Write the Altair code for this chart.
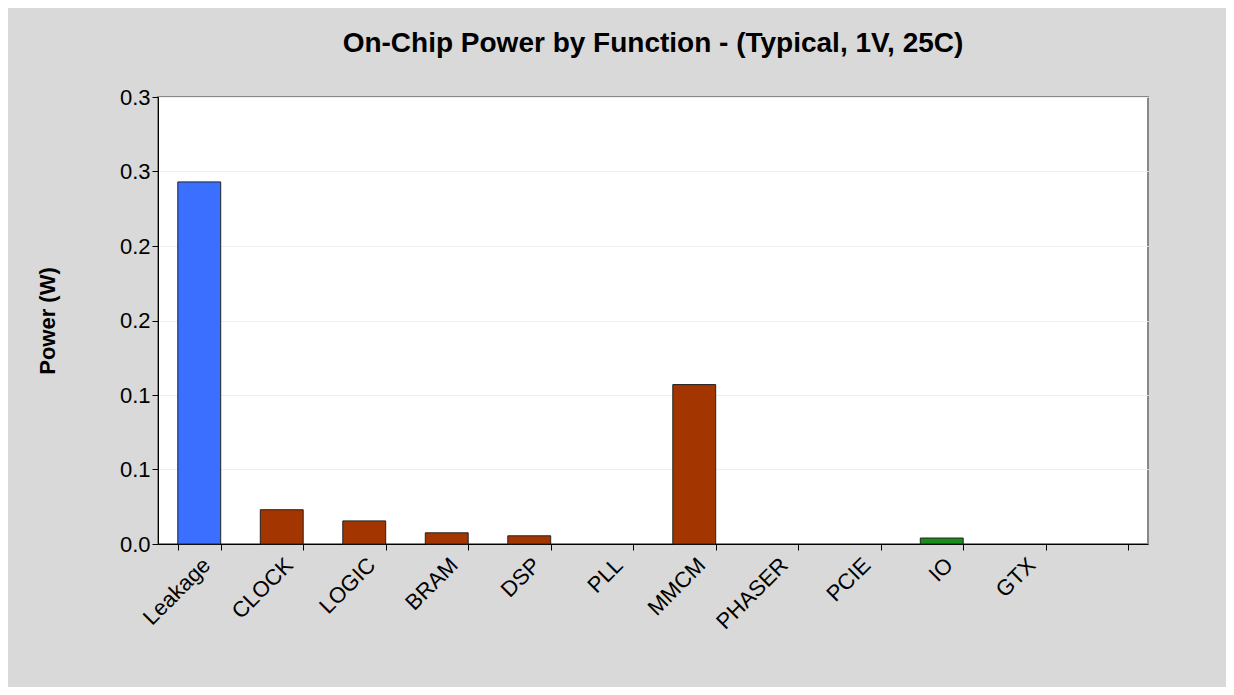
import pandas as pd
import altair as alt

# Data
functions = ["Leakage", "CLOCK", "LOGIC", "BRAM", "DSP", "PLL", "MMCM",
             "PHASER", "PCIE", "IO", "GTX", " "]
power_w = [0.243, 0.023, 0.0155, 0.0075, 0.0055, 0.0, 0.107,
           0.0, 0.0, 0.004, 0.0, 0.0]
groups = ["static", "dyn", "dyn", "dyn", "dyn", "dyn", "dyn",
          "dyn", "dyn", "io", "dyn", "dyn"]

df = pd.DataFrame({"Function": functions, "Power": power_w, "Group": groups})

bars = alt.Chart(df).mark_bar(stroke="#222222", strokeWidth=1).encode(
    x=alt.X("Function:N", sort=functions, title=None)
        .scale(paddingInner=0.48, paddingOuter=0.24)
        .axis(labelAngle=-45, labelAlign="right", labelBaseline="top",
              labelFontSize=22, labelColor="black", labelFont="Arial",
              tickBand="extent", tickColor="black", tickSize=6,
              domainColor="black", labelPadding=4),
    y=alt.Y("Power:Q", title="Power (W)")
        .scale(domain=[0, 0.3], nice=False)
        .axis(values=[0, 0.05, 0.1, 0.15, 0.2, 0.25, 0.3],
              labelExpr="format(round(datum.value*10)/10, '.1f')",
              labelFontSize=22, labelColor="black", labelFont="Arial",
              titleFontSize=22, titleFont="Arial", titleColor="black",
              titleFontWeight="bold", titlePadding=60,
              tickColor="black", tickSize=6, domainColor="black",
              gridColor="#eeeeee"),
    color=alt.Color("Group:N", legend=None)
        .scale(domain=["static", "dyn", "io"],
               range=["#3a6fff", "#a33500", "#1a8c1a"]),
    strokeOpacity=alt.condition("datum.Power > 0", alt.value(1), alt.value(0)),
).properties(
    width=990,
    height=447,
    title=alt.TitleParams("On-Chip Power by Function - (Typical, 1V, 25C)",
                          fontSize=28, font="Arial", fontWeight="bold",
                          color="black", offset=28),
    autosize=alt.AutoSizeParams(type="none"),
    padding={"left": 150, "top": 89, "right": 78, "bottom": 143},
    background="#d9d9d9",
).configure_view(stroke="#888888", strokeWidth=2, fill="white")

bars.save("out.html", embed_options={"renderer": "svg", "actions": False})
